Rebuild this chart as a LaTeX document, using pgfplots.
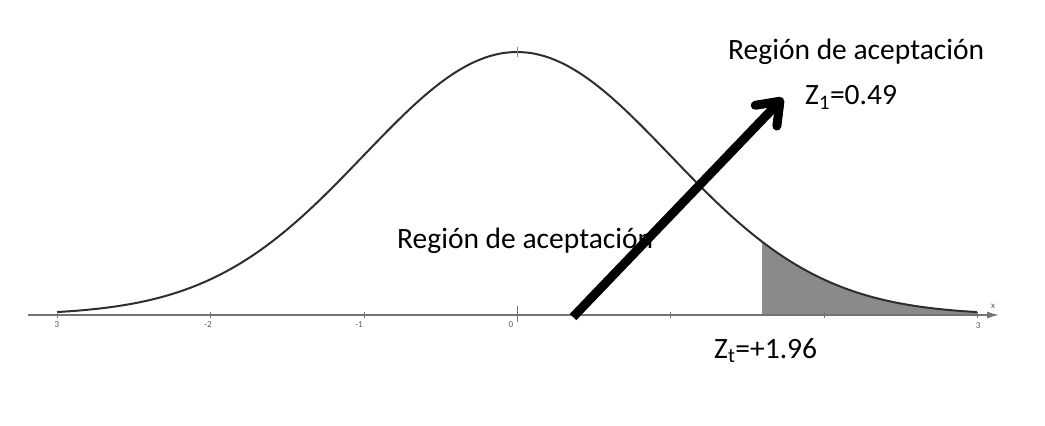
\documentclass[border=0pt]{standalone}
\usepackage{pgfplots}
\pgfplotsset{compat=1.18}
\usepackage{fontspec}
\setmainfont{Carlito}
\usetikzlibrary{arrows.meta}

% standard normal density, z from -3 to 3
\pgfplotstableread{
z      f
-3.0   0.00443
-2.9   0.00595
-2.8   0.00792
-2.7   0.01042
-2.6   0.01358
-2.5   0.01753
-2.4   0.02239
-2.3   0.02833
-2.2   0.03547
-2.1   0.04398
-2.0   0.05399
-1.9   0.06562
-1.8   0.07895
-1.7   0.09405
-1.6   0.11092
-1.5   0.12952
-1.4   0.14973
-1.3   0.17137
-1.2   0.19419
-1.1   0.21785
-1.0   0.24197
-0.9   0.26609
-0.8   0.28969
-0.7   0.31225
-0.6   0.33322
-0.5   0.35207
-0.4   0.36827
-0.3   0.38139
-0.2   0.39104
-0.1   0.39695
0.0    0.39894
0.1    0.39695
0.2    0.39104
0.3    0.38139
0.4    0.36827
0.5    0.35207
0.6    0.33322
0.7    0.31225
0.8    0.28969
0.9    0.26609
1.0    0.24197
1.1    0.21785
1.2    0.19419
1.3    0.17137
1.4    0.14973
1.5    0.12952
1.6    0.11092
1.7    0.09405
1.8    0.07895
1.9    0.06562
2.0    0.05399
2.1    0.04398
2.2    0.03547
2.3    0.02833
2.4    0.02239
2.5    0.01753
2.6    0.01358
2.7    0.01042
2.8    0.00792
2.9    0.00595
3.0    0.00443
}\normaldata

% rejection tail
\pgfplotstableread{
z      f
1.6    0.11092
1.7    0.09405
1.8    0.07895
1.9    0.06562
2.0    0.05399
2.1    0.04398
2.2    0.03547
2.3    0.02833
2.4    0.02239
2.5    0.01753
2.6    0.01358
2.7    0.01042
2.8    0.00792
2.9    0.00595
3.0    0.00443
}\taildata

\begin{document}
\begin{tikzpicture}
\begin{axis}[
  scale only axis,
  width=1045bp, height=425bp,
  xmin=-3.372, xmax=3.444,
  ymin=-0.1669, ymax=0.4778,
  hide axis, clip=false
]
\path (rel axis cs:0,0) rectangle (rel axis cs:1,1);
\addplot[draw=none, fill=black!46] table[x=z, y=f] {\taildata} \closedcycle;
\addplot[draw=black!45, line width=1bp] coordinates {(1.6,0) (1.6,0.11092)};
\addplot[smooth, line width=2bp, color=black!82] table[x=z, y=f] {\normaldata};
\end{axis}

% annotations in pixel units (origin top left)
\begin{scope}[x=1bp, y=-1bp, shift={(0,425bp)}]
  \draw[black!55, line width=1.4bp, -{Latex[length=12bp,width=7bp]}] (28,315) -- (999,315);
  \foreach \px in {57,210,364,517,670,824,977}
    \draw[black!55, line width=1bp] (\px,312) -- (\px,318);
  \draw[black!55, line width=1bp] (517,306) -- (517,322);
  \draw[black!45, line width=0.8bp] (517,47) -- (517,57);
  \begin{scope}[font=\fontsize{9bp}{10bp}\selectfont, text=black!65]
    \node at (57,325) {3};
    \node at (208,325) {-2};
    \node at (359,325) {-1};
    \node at (511,325) {0};
    \node at (978,326) {3};
    \node at (993,306) {x};
  \end{scope}
  \begin{scope}[font=\fontsize{29.5bp}{33bp}\selectfont, inner sep=0pt]
    \node[anchor=base west] at (728,60) {Región de aceptación};
    \node[anchor=base west] at (805,105) {Z\textsubscript{1}=0.49};
    \node[anchor=base west] at (397,248) {Región de aceptación};
    \node[anchor=base west] at (714,358) {Z\textsubscript{t}=+1.96};
  \end{scope}
  \draw[line width=9bp, -{Straight Barb[length=20bp,width=30bp,round]}] (573,317) -- (783,98);
\end{scope}
\end{tikzpicture}
\end{document}
